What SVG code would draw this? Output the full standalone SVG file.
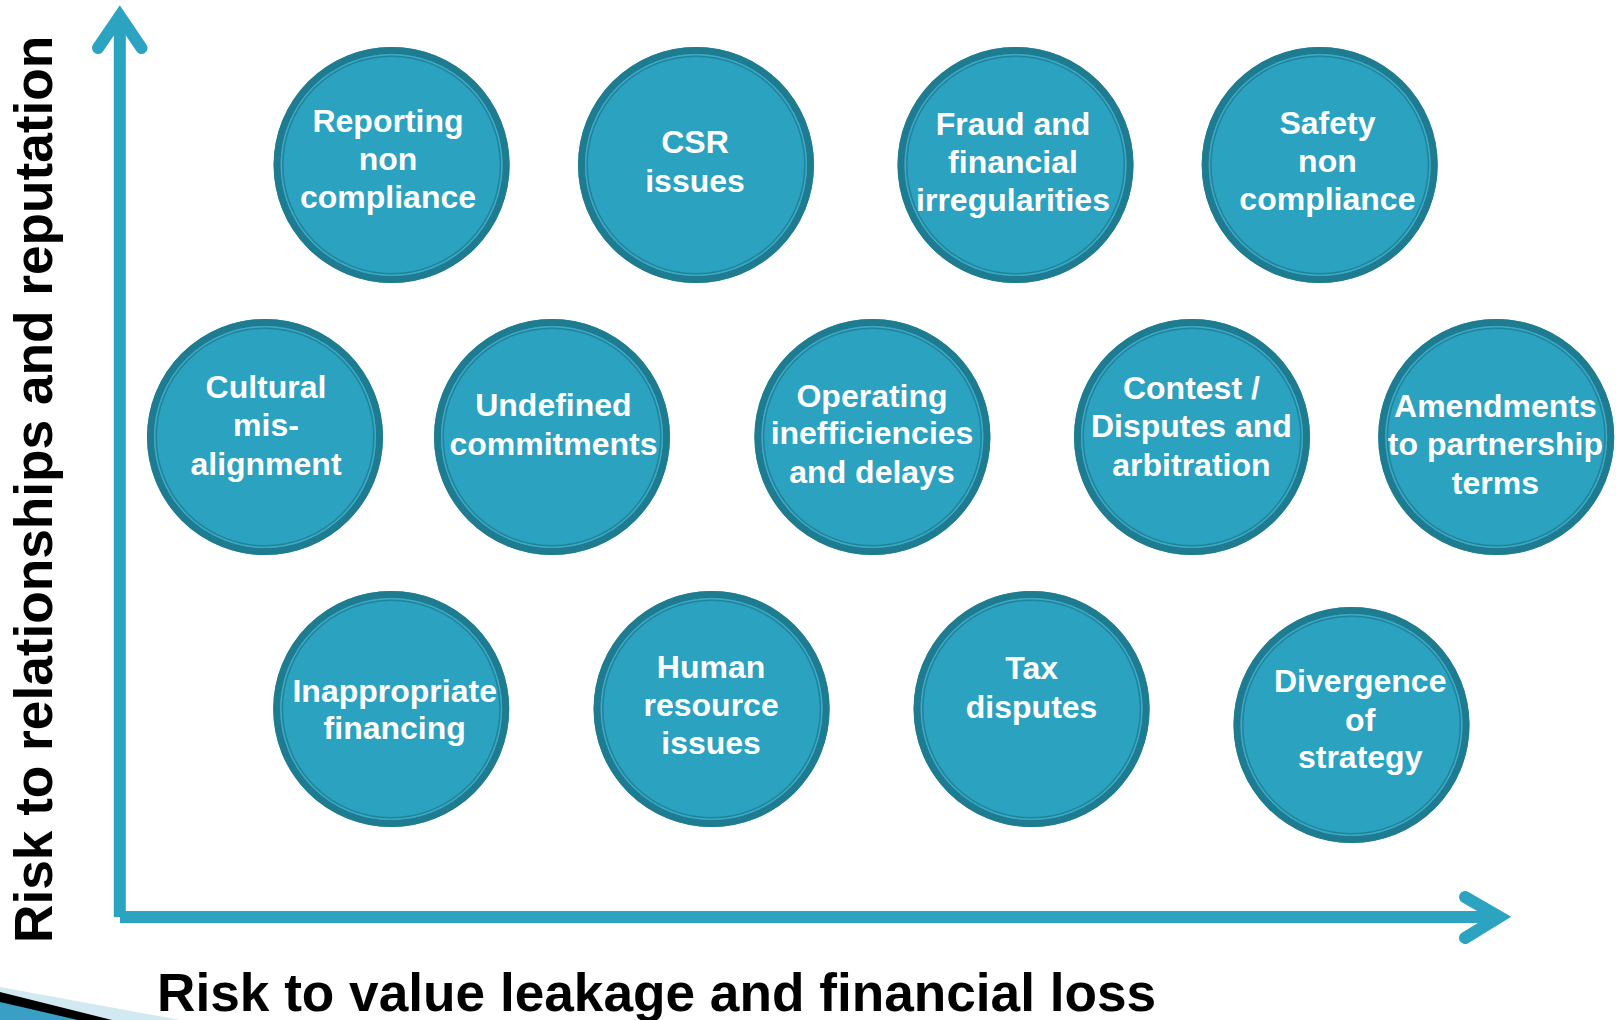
<svg xmlns="http://www.w3.org/2000/svg" width="1616" height="1020" viewBox="0 0 1616 1020">
  <style>
    .disc { fill: #2ba2bf; }
    .rim { fill: none; stroke: #1e7b90; stroke-width: 7; }
    .inner-rim { fill: none; stroke: #23839a; stroke-width: 1.5; }
    .gap { fill: none; stroke: #3aaac6; stroke-width: 1.5; }
    .label { font-family: "Liberation Sans", Arial, sans-serif; font-weight: bold; font-size: 32px; fill: #ffffff; text-anchor: middle; }
    .axis-title { font-family: "Liberation Sans", Arial, sans-serif; font-weight: bold; font-size: 53.2px; fill: #000000; }
    .axis { fill: none; stroke: #2ba3c1; stroke-width: 12; }
    .head { fill: none; stroke: #2ba3c1; stroke-width: 12; stroke-linecap: round; stroke-linejoin: miter; stroke-miterlimit: 4; }
  </style>
  <defs>
    <g id="badge">
      <circle class="disc" r="118"/>
      <circle class="rim" r="114.5"/>
      <circle class="gap" r="110.3"/>
      <circle class="inner-rim" r="108.8"/>
    </g>
  </defs>

  <rect width="1616" height="1020" fill="#ffffff"/>

  <!-- corner swoosh -->
  <g id="corner-swoosh">
    <polygon points="0,987 180,1020 0,1020" fill="#d3e9f1"/>
    <polygon points="0,992 112,1020 0,1020" fill="#000000"/>
    <polygon points="0,1002 78,1020 0,1020" fill="#3a9fc4"/>
  </g>

  <!-- axes -->
  <g id="axes">
    <line class="axis" x1="119.8" y1="917" x2="119.8" y2="18"/>
    <line class="axis" x1="120" y1="917" x2="1500" y2="917"/>
    <polyline class="head" points="98,48 119.8,16 141.5,48"/>
    <polyline class="head" points="1465,897 1499.5,917 1465,938"/>
  </g>

  <text class="axis-title" transform="translate(52,943) rotate(-90)" font-size="52.5">Risk to relationships and reputation</text>
  <text class="axis-title" x="157" y="1011">Risk to value leakage and financial loss</text>

  <!-- row 1 -->
  <g id="reporting-non-compliance">
    <use href="#badge" x="391.6" y="165"/>
    <text class="label" x="388" y="132">Reporting</text>
    <text class="label" x="388" y="170">non</text>
    <text class="label" x="388" y="207.5">compliance</text>
  </g>
  <g id="csr-issues">
    <use href="#badge" x="696" y="165"/>
    <text class="label" x="695" y="153">CSR</text>
    <text class="label" x="695" y="192">issues</text>
  </g>
  <g id="fraud-financial-irregularities">
    <use href="#badge" x="1015.5" y="165"/>
    <text class="label" x="1013" y="134.5">Fraud and</text>
    <text class="label" x="1013" y="172.5">financial</text>
    <text class="label" x="1013" y="211">irregularities</text>
  </g>
  <g id="safety-non-compliance">
    <use href="#badge" x="1319.7" y="165"/>
    <text class="label" x="1327.4" y="133.5">Safety</text>
    <text class="label" x="1327.4" y="171.5">non</text>
    <text class="label" x="1327.4" y="210">compliance</text>
  </g>

  <!-- row 2 -->
  <g id="cultural-misalignment">
    <use href="#badge" x="265" y="437"/>
    <text class="label" x="266" y="397.5">Cultural</text>
    <text class="label" x="266" y="436">mis-</text>
    <text class="label" x="266" y="474.5">alignment</text>
  </g>
  <g id="undefined-commitments">
    <use href="#badge" x="552" y="437"/>
    <text class="label" x="553.4" y="416">Undefined</text>
    <text class="label" x="553.4" y="455">commitments</text>
  </g>
  <g id="operating-inefficiencies">
    <use href="#badge" x="872.4" y="437"/>
    <text class="label" x="872" y="406.5">Operating</text>
    <text class="label" x="872" y="444">inefficiencies</text>
    <text class="label" x="872" y="483">and delays</text>
  </g>
  <g id="contest-disputes-arbitration">
    <use href="#badge" x="1192" y="437"/>
    <text class="label" x="1191.4" y="398.5">Contest /</text>
    <text class="label" x="1191.4" y="436.5">Disputes and</text>
    <text class="label" x="1191.4" y="475.5">arbitration</text>
  </g>
  <g id="amendments-partnership-terms">
    <use href="#badge" x="1496.2" y="437"/>
    <text class="label" x="1495.4" y="417">Amendments</text>
    <text class="label" x="1495.4" y="455">to partnership</text>
    <text class="label" x="1495.4" y="494">terms</text>
  </g>

  <!-- row 3 -->
  <g id="inappropriate-financing">
    <use href="#badge" x="391.2" y="709"/>
    <text class="label" x="394.7" y="701.5">Inappropriate</text>
    <text class="label" x="394.7" y="738.5">financing</text>
  </g>
  <g id="human-resource-issues">
    <use href="#badge" x="711.6" y="709"/>
    <text class="label" x="711.1" y="677.8">Human</text>
    <text class="label" x="711.1" y="716">resource</text>
    <text class="label" x="711.1" y="754">issues</text>
  </g>
  <g id="tax-disputes">
    <use href="#badge" x="1031.6" y="709"/>
    <text class="label" x="1031.6" y="679">Tax</text>
    <text class="label" x="1031.6" y="718">disputes</text>
  </g>
  <g id="divergence-of-strategy">
    <use href="#badge" x="1351.5" y="725"/>
    <text class="label" x="1360.2" y="692">Divergence</text>
    <text class="label" x="1360.2" y="730.5">of</text>
    <text class="label" x="1360.2" y="768">strategy</text>
  </g>
</svg>
